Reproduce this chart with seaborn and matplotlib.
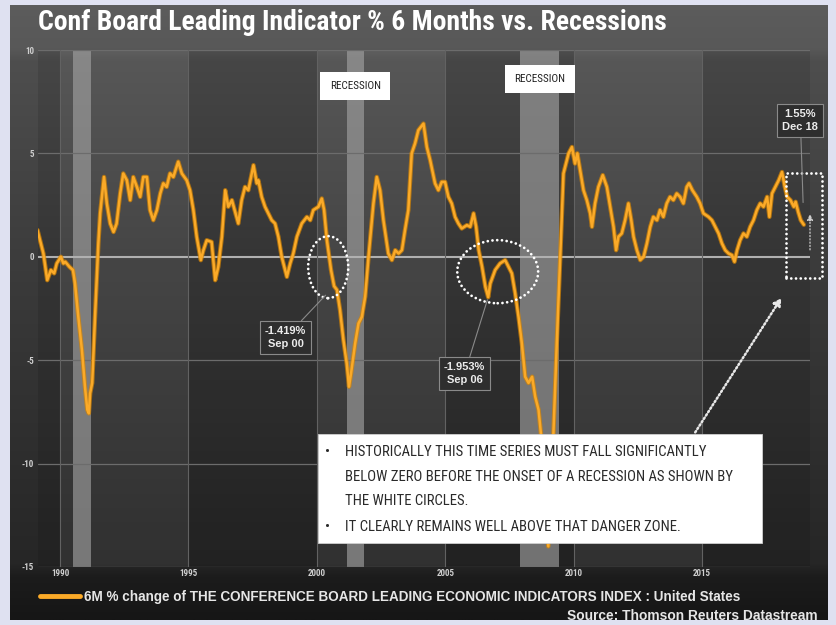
import numpy as np
import matplotlib
matplotlib.use("Agg")
import matplotlib.pyplot as plt
import matplotlib.patheffects as pe
from matplotlib import font_manager
from matplotlib.patches import Ellipse, Rectangle
import seaborn as sns

# ---------------------------------------------------------------- data
dates = [
    1989.12, 1989.35, 1989.50, 1989.64, 1989.77, 1989.87, 1990.03, 1990.13, 1990.20, 1990.36,
    1990.50, 1990.58, 1990.71, 1990.85, 1990.97, 1991.06, 1991.12, 1991.17, 1991.25, 1991.36,
    1991.49, 1991.56, 1991.71, 1991.82, 1991.95, 1992.08, 1992.20, 1992.34, 1992.46, 1992.60,
    1992.73, 1992.85, 1992.99, 1993.12, 1993.24, 1993.38, 1993.50, 1993.63, 1993.77, 1993.90,
    1994.02, 1994.15, 1994.28, 1994.41, 1994.60, 1994.74, 1994.93, 1995.06, 1995.19, 1995.32,
    1995.48, 1995.58, 1995.71, 1995.90, 1996.04, 1996.16, 1996.30, 1996.43, 1996.55, 1996.69,
    1996.94, 1997.07, 1997.20, 1997.33, 1997.53, 1997.66, 1997.72, 1997.85, 1997.98, 1998.11,
    1998.24, 1998.37, 1998.50, 1998.63, 1998.83, 1998.96, 1999.08, 1999.22, 1999.41, 1999.61,
    1999.74, 1999.86, 2000.06, 2000.19, 2000.28, 2000.39, 2000.48, 2000.55, 2000.67, 2000.78,
    2000.90, 2001.03, 2001.16, 2001.25, 2001.33, 2001.49, 2001.62, 2001.75, 2001.88, 2002.01,
    2002.20, 2002.33, 2002.46, 2002.59, 2002.78, 2002.92, 2003.05, 2003.18, 2003.31, 2003.43,
    2003.56, 2003.69, 2003.82, 2003.95, 2004.15, 2004.28, 2004.41, 2004.60, 2004.73, 2004.86,
    2004.99, 2005.12, 2005.25, 2005.38, 2005.51, 2005.64, 2005.84, 2005.97, 2006.10, 2006.20,
    2006.30, 2006.43, 2006.56, 2006.67, 2006.75, 2006.94, 2007.13, 2007.33, 2007.46, 2007.59,
    2007.72, 2007.85, 2007.98, 2008.11, 2008.24, 2008.38, 2008.50, 2008.63, 2008.76, 2008.88,
    2009.01, 2009.21, 2009.34, 2009.47, 2009.60, 2009.80, 2009.93, 2010.05, 2010.14, 2010.25,
    2010.38, 2010.51, 2010.64, 2010.71, 2010.83, 2010.96, 2011.13, 2011.29, 2011.42, 2011.55,
    2011.65, 2011.74, 2011.87, 2012.00, 2012.13, 2012.24, 2012.33, 2012.46, 2012.59, 2012.72,
    2012.85, 2012.98, 2013.10, 2013.24, 2013.36, 2013.49, 2013.62, 2013.75, 2013.88, 2014.01,
    2014.14, 2014.27, 2014.40, 2014.49, 2014.62, 2014.79, 2014.92, 2015.05, 2015.25, 2015.38,
    2015.51, 2015.64, 2015.77, 2015.90, 2016.03, 2016.16, 2016.26, 2016.36, 2016.48, 2016.61,
    2016.74, 2016.87, 2017.00, 2017.13, 2017.26, 2017.39, 2017.53, 2017.62, 2017.72, 2017.85,
    2017.98, 2018.11, 2018.22, 2018.31, 2018.44, 2018.57, 2018.64, 2018.74, 2018.84, 2018.96,
]
values = [
    1.29, 0.16, -1.13, -0.64, -0.80, -0.32, 0.00, -0.32, -0.24, -0.48,
    -0.64, -1.27, -2.90, -4.50, -6.30, -7.40, -7.57, -6.60, -6.10, -2.90,
    0.65, 2.10, 3.86, 2.58, 1.61, 1.20, 1.60, 3.06, 4.03, 3.70,
    2.74, 3.86, 3.38, 2.90, 3.86, 3.86, 2.26, 1.77, 2.26, 3.06,
    3.55, 3.38, 4.03, 3.86, 4.60, 4.03, 3.70, 3.22, 2.26, 0.97,
    -0.16, 0.32, 0.80, 0.72, -1.13, -0.48, 0.97, 3.22, 2.42, 2.74,
    1.61, 2.74, 3.38, 3.22, 4.43, 3.55, 3.70, 2.90, 2.42, 2.10,
    1.77, 1.61, 0.97, 0.00, -0.97, -0.32, 0.16, 0.97, 1.61, 1.93,
    1.77, 2.26, 2.42, 2.82, 2.26, 0.80, 0.00, -0.64, -1.419, -1.60,
    -2.57, -4.00, -5.15, -6.28, -5.63, -4.18, -3.22, -2.90, -1.93, 0.00,
    2.58, 3.86, 3.22, 1.77, 0.16, -0.16, 0.32, 0.16, 0.32, 1.29,
    2.26, 5.00, 5.48, 6.12, 6.44, 5.31, 4.67, 3.55, 3.22, 3.62,
    3.62, 2.90, 2.58, 1.93, 1.61, 1.37, 1.53, 1.45, 2.10, 1.45,
    0.32, -0.48, -1.45, -1.953, -1.29, -0.64, -0.32, -0.16, -0.48, -0.80,
    -1.77, -2.90, -4.18, -5.80, -6.10, -5.80, -6.76, -7.40, -9.00, -11.80,
    -14.00, -8.50, -4.18, -0.16, 4.03, 5.00, 5.31, 4.51, 5.00, 4.19,
    3.22, 2.74, 2.10, 1.45, 2.58, 3.38, 3.95, 3.38, 2.42, 1.45,
    0.32, 0.97, 1.13, 1.77, 2.58, 1.77, 0.97, 0.32, -0.16, 0.00,
    0.65, 1.45, 1.93, 1.77, 2.26, 1.93, 2.58, 2.90, 2.74, 3.06,
    2.90, 2.58, 3.38, 3.55, 3.22, 2.90, 2.58, 2.10, 1.93, 1.77,
    1.45, 1.13, 0.65, 0.32, 0.16, 0.08, -0.24, 0.32, 0.80, 1.13,
    0.97, 1.45, 1.77, 2.26, 2.58, 2.42, 2.90, 1.93, 3.06, 3.38,
    3.70, 4.10, 3.38, 2.90, 2.74, 2.42, 2.66, 2.17, 1.77, 1.55,
]

recession_starts = [1990.50, 2001.17, 2007.92]
recession_ends = [1991.21, 2001.83, 2009.42]

year_ticks = [1990, 1995, 2000, 2005, 2010, 2015]
value_ticks = [10, 5, 0, -5, -10, -15]

callout_dates = [2000.67, 2006.67, 2018.96]
callout_values = [-1.419, -1.953, 1.55]
callout_months = ["Sep 00", "Sep 06", "Dec 18"]

TITLE = "Conf Board Leading Indicator % 6 Months vs. Recessions"
SERIES_NAME = ("6M % change of THE CONFERENCE BOARD LEADING ECONOMIC "
               "INDICATORS INDEX : United States")
SOURCE = "Source: Thomson Reuters Datastream"
NOTE_LINES = [
    ("\u2022", "HISTORICALLY THIS TIME SERIES MUST FALL SIGNIFICANTLY"),
    ("", "BELOW ZERO BEFORE THE ONSET OF A RECESSION AS SHOWN BY"),
    ("", "THE WHITE CIRCLES."),
    ("\u2022", "IT CLEARLY REMAINS WELL ABOVE THAT DANGER ZONE."),
]

# ---------------------------------------------------------------- style
sns.set_theme(style="dark")
available = {f.name for f in font_manager.fontManager.ttflist}


def pick(*names):
    for n in names:
        if n in available:
            return n
    return "DejaVu Sans"


NARROW = pick("Liberation Sans Narrow", "Roboto Condensed",
              "DejaVu Sans Condensed", "Liberation Sans")
WIDE = pick("Liberation Sans", "Arimo", "DejaVu Sans")
plt.rcParams["font.family"] = [NARROW, "DejaVu Sans"]
plt.rcParams["axes.unicode_minus"] = False

W, H = 836, 625
fig = plt.figure(figsize=(W / 100, H / 100), dpi=100)
fig.patch.set_facecolor("#dfe1f1")
renderer = fig.canvas.get_renderer()


def fx(x):
    return x / W


def fy(y):
    return 1 - y / H


def size_for(text, width_px, family=NARROW, weight="normal", base=10.0):
    t = fig.text(0, 0, text, fontsize=base, family=family, fontweight=weight)
    w = t.get_window_extent(renderer).width
    t.remove()
    return base * width_px / w


# dark panel with a vertical gradient
bg = fig.add_axes([fx(10), fy(620), 818 / W, 615 / H])
rows = np.linspace(0, 1, 400)
shade = np.interp(rows, [0, 0.07, 0.09, 0.45, 0.91, 0.93, 1.0],
                  [0x5c, 0x58, 0x4e, 0x3a, 0x26, 0x1c, 0x16]) / 255
img = np.dstack([np.repeat(shade[:, None], 2, axis=1)] * 3)
bg.imshow(img, aspect="auto", extent=[0, 1, 0, 1], origin="upper")
bg.axis("off")

# main plotting area
ax = fig.add_axes([fx(38), fy(567), 772 / W, 517 / H])
ax.set_facecolor("none")
x0, x1 = 1989.14, 2019.2
ax.set_xlim(x0, x1)
ax.set_ylim(-15, 10)

# alternating five-year bands
edges = [x0] + year_ticks + [x1]
for i in range(len(edges) - 1):
    lighter = i % 2 == 1
    ax.axvspan(edges[i], edges[i + 1], color="white" if lighter else "black",
               alpha=0.05 if lighter else 0.10, lw=0, zorder=0)

# recession shading
for s, e in zip(recession_starts, recession_ends):
    ax.axvspan(s, e, color="#a4a4a4", alpha=0.62, lw=0, zorder=1)

# grid
for v in value_ticks:
    if v == 0:
        ax.axhline(v, color="#b0b0b0", lw=1.5, zorder=2)
    else:
        ax.axhline(v, color="#6c6c6c", lw=0.9, zorder=2)
for yr in year_ticks:
    ax.axvline(yr, color="#626262", lw=0.8, zorder=2)

# series
sns.lineplot(x=dates, y=values, ax=ax, color="#fbaa28", lw=1.8,
             label=SERIES_NAME, zorder=6, sort=False, estimator=None)
line = ax.get_lines()[-1]
line.set_path_effects([pe.Stroke(linewidth=3.2, foreground="#d98600", alpha=0.7),
                       pe.Normal()])

# axes cosmetics
for sp in ax.spines.values():
    sp.set_visible(False)
ax.set_xticks(year_ticks)
ax.set_xticklabels([str(y) for y in year_ticks])
ax.set_yticks(value_ticks)
ax.set_yticklabels([str(v) for v in value_ticks])
ax.tick_params(axis="both", length=0, colors="#cfcfcf", labelsize=6.5)
ax.tick_params(axis="x", pad=1.5)
ax.tick_params(axis="y", pad=3)
for t in ax.get_xticklabels() + ax.get_yticklabels():
    t.set_fontweight("bold")
ax.set_xlabel("")
ax.set_ylabel("")
ax.grid(False)

# recession labels above the two later recessions
for idx, yv in [(1, 8.26), (2, 8.6)]:
    mid = (recession_starts[idx] + recession_ends[idx]) / 2
    ax.text(mid, yv, "RECESSION", ha="center", va="center", fontsize=8,
            color="#222222", zorder=9,
            bbox=dict(boxstyle="square,pad=0.85", fc="white", ec="none"))

# value callouts
offsets = [(-35, -37), (-17, -55), (-2.5, 75)]
shrinks = [9, 2, 16]
for d, v, m, off, sh in zip(callout_dates, callout_values, callout_months, offsets, shrinks):
    ax.annotate(f"{v:g}%\n{m}", xy=(d, v), xytext=off, textcoords="offset points",
                ha="center", va="center", fontsize=8, fontweight="bold",
                family=WIDE, color="#ececec", linespacing=1.35, zorder=9,
                bbox=dict(boxstyle="square,pad=0.45", fc="#2e2e2e", ec="#8a8a8a", lw=0.8),
                arrowprops=dict(arrowstyle="-", color="#8a8a8a", lw=0.8,
                                shrinkA=0, shrinkB=sh))

# dotted highlight circles
dot = (0, (0.01, 1.7))
for (cx, cy), w, h in [((2000.44, -0.5), 1.56, 3.0), ((2007.04, -0.72), 3.15, 3.05)]:
    el = Ellipse((cx, cy), w, h, fill=False, ec="white", lw=2.0, ls=dot, zorder=8)
    el.set_capstyle("round")
    ax.add_patch(el)

rect = Rectangle((2018.27, -1.03), 1.4, 5.07, fill=False, ec="white", lw=2.0,
                 ls=dot, zorder=8, clip_on=False)
rect.set_capstyle("round")
ax.add_patch(rect)

ax.annotate("", xy=(2019.2, 2.2), xytext=(2019.2, 0.2),
            arrowprops=dict(arrowstyle="-|>,head_length=0.3,head_width=0.15",
                            color="#cfcfcf", lw=0.9, ls=":"),
            annotation_clip=False, zorder=8)
ax.annotate("", xy=(2018.08, -2.0), xytext=(2014.73, -8.49),
            arrowprops=dict(arrowstyle="-|>,head_length=0.35,head_width=0.2",
                            color="#e8e8e8", lw=1.8, ls=(0, (0.6, 1.0)),
                            shrinkA=0, shrinkB=0),
            annotation_clip=False, zorder=8)

# note box
fig.add_artist(Rectangle((fx(318), fy(543)), 444 / W, 109 / H,
                         transform=fig.transFigure, fc="white", ec="#d0d0d0",
                         lw=0.6, zorder=10))
note_size = size_for(NOTE_LINES[0][1], 363)
for (bullet, txt), ypx in zip(NOTE_LINES, [452, 477, 501, 527]):
    if bullet:
        fig.text(fx(328), fy(ypx), bullet, ha="center", va="center",
                 fontsize=note_size, color="#2a2a2a", zorder=11)
    fig.text(fx(345), fy(ypx), txt, ha="left", va="center",
             fontsize=note_size, color="#2a2a2a", zorder=11)

# title, legend, source
fig.text(fx(38), fy(23), TITLE, ha="left", va="center", color="white",
         fontweight="bold", fontsize=size_for(TITLE, 630, weight="bold"))

leg_size = size_for(SERIES_NAME, 656, family=WIDE, weight="bold")
leg = ax.legend(loc="center left", bbox_to_anchor=(fx(40), fy(597)),
                bbox_transform=fig.transFigure, frameon=False,
                handlelength=40 / (leg_size * 100 / 72), handletextpad=0.3,
                borderaxespad=0, borderpad=0,
                prop={"family": WIDE, "weight": "bold", "size": leg_size})
for t in leg.get_texts():
    t.set_color("#e6e6e6")
for l in leg.get_lines():
    l.set_linewidth(3.5)
    l.set_path_effects([])

fig.text(fx(818), fy(616), SOURCE, ha="right", va="center", color="#e6e6e6",
         fontweight="bold", family=WIDE,
         fontsize=size_for(SOURCE, 250, family=WIDE, weight="bold"))

fig.savefig("out.png", dpi=100, facecolor=fig.get_facecolor())
